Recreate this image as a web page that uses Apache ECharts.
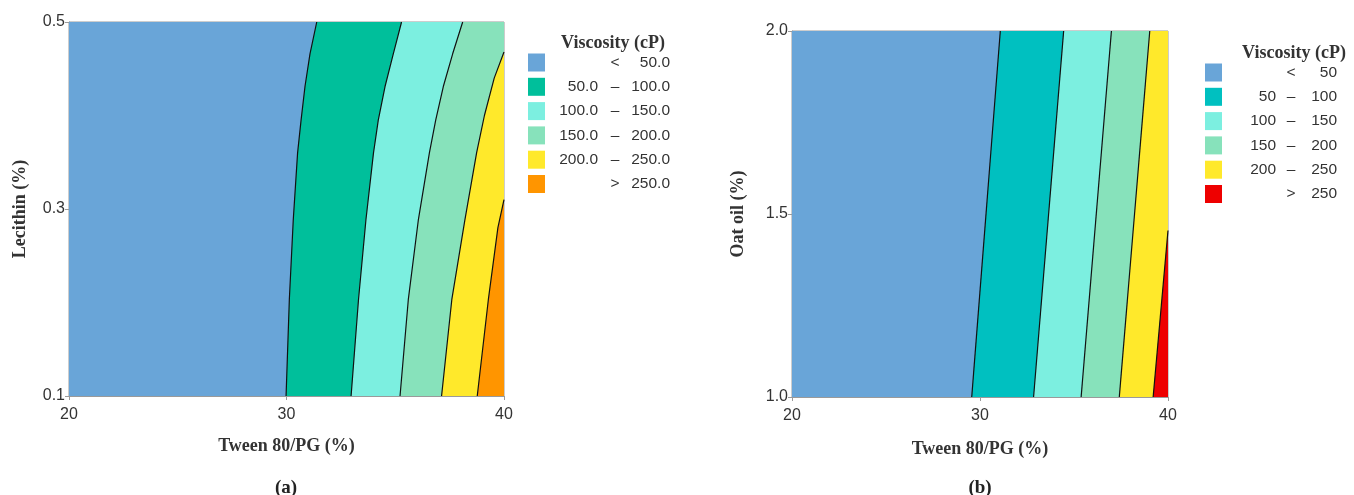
<!DOCTYPE html>
<html>
<head>
<meta charset="utf-8">
<script src="https://cdn.jsdelivr.net/npm/echarts@6/dist/echarts.min.js"></script>
<style>
html,body{margin:0;padding:0;background:#fff;}
#chart{width:1354px;height:495px;}
</style>
</head>
<body>
<div id="chart"></div>
<script>
// ---------- Data ----------
// Panel (a): Tween 80/PG (%) vs Lecithin (%)
const aXTicks = [20, 30, 40];
const aYTicks = [0.1, 0.3, 0.5];
// contour boundaries [x, y], listed top to bottom
const aB50  = [[31.39,0.5],[31.08,0.466],[30.85,0.431],[30.67,0.395],[30.51,0.36],[30.31,0.288],[30.13,0.203],[29.98,0.1]];
const aB100 = [[35.29,0.5],[34.91,0.466],[34.53,0.431],[34.22,0.395],[34.0,0.36],[33.65,0.288],[33.31,0.203],[32.97,0.1]];
const aB150 = [[38.1,0.5],[37.64,0.466],[37.21,0.431],[36.86,0.395],[36.57,0.36],[36.06,0.288],[35.6,0.203],[35.22,0.1]];
const aB200 = [[40,0.468],[39.55,0.44],[39.1,0.40],[38.74,0.36],[38.2,0.288],[37.6,0.203],[37.13,0.1]];
const aB250 = [[40,0.31],[39.72,0.28],[39.28,0.203],[38.77,0.1]];
const aColors = ['#69A5D8','#00BF9B','#7CEFE0','#87E2BB','#FFE92B','#FF9500'];
const aLegLow  = ['', '50.0', '100.0', '150.0', '200.0', ''];
const aLegSym  = ['<', '–', '–', '–', '–', '>'];
const aLegHigh = ['50.0', '100.0', '150.0', '200.0', '250.0', '250.0'];

// Panel (b): Tween 80/PG (%) vs Oat oil (%)
const bXTicks = [20, 30, 40];
const bYTicks = [1.0, 1.5, 2.0];
const bB50  = [[31.08,2.0],[29.56,1.0]];
const bB100 = [[34.45,2.0],[32.85,1.0]];
const bB150 = [[36.99,2.0],[35.38,1.0]];
const bB200 = [[39.03,2.0],[37.41,1.0]];
const bB250 = [[40,1.455],[39.21,1.0]];
const bColors = ['#69A5D8','#00C0C0','#7CEFE0','#87E2BB','#FFE92B','#EE0000'];
const bLegLow  = ['', '50', '100', '150', '200', ''];
const bLegSym  = ['<', '–', '–', '–', '–', '>'];
const bLegHigh = ['50', '100', '150', '200', '250', '250'];

const legendTitle = 'Viscosity (cP)';
const xTitle = 'Tween 80/PG (%)';
const aYTitle = 'Lecithin (%)';
const bYTitle = 'Oat oil (%)';

// ---------- Chart ----------
const SANS = 'Liberation Sans';
const SERIF = 'Liberation Serif';
const chart = echarts.init(document.getElementById('chart'));

function xAxisCfg(gi, ticks, gap){
  return {
    type:'value', gridIndex:gi, min:ticks[0], max:ticks[ticks.length-1], interval:ticks[1]-ticks[0],
    axisLine:{show:true, lineStyle:{color:'#9a9a9a', width:1}},
    axisTick:{show:true, length:4, lineStyle:{color:'#9a9a9a'}},
    axisLabel:{fontFamily:SANS, fontSize:16, color:'#333', margin:11},
    splitLine:{show:false},
    name:xTitle, nameLocation:'middle', nameGap:gap,
    nameTextStyle:{fontFamily:SERIF, fontWeight:'bold', fontSize:18, color:'#333'}
  };
}
function yAxisCfg(gi, ticks, name, gap){
  return {
    type:'value', gridIndex:gi, min:ticks[0], max:ticks[ticks.length-1], interval:ticks[1]-ticks[0],
    axisLine:{show:true, lineStyle:{color:'#9a9a9a', width:1}},
    axisTick:{show:true, length:4, lineStyle:{color:'#9a9a9a'}},
    axisLabel:{fontFamily:SANS, fontSize:16, color:'#333', margin:4, formatter:v=>v.toFixed(1)},
    splitLine:{show:false},
    name:name, nameLocation:'middle', nameGap:gap,
    nameTextStyle:{fontFamily:SERIF, fontWeight:'bold', fontSize:18, color:'#333'}
  };
}

function layerSeries(gi, bounds, colors, xmax){
  // layer 0: full rectangle; layer k: region right of boundary k
  return {
    type:'custom', xAxisIndex:gi, yAxisIndex:gi, clip:true, z:1,
    data: colors.map((c,i)=>[i]),
    renderItem: function(params, api){
      const i = params.dataIndex;
      let pts;
      if(i === 0){
        const xs = bounds.xr, ys = bounds.yr;
        pts = [[xs[0],ys[1]],[xs[1],ys[1]],[xs[1],ys[0]],[xs[0],ys[0]]];
      } else {
        const b = bounds.list[i-1];
        pts = b.slice();
        pts.push([xmax, b[b.length-1][1]]);
        pts.push([xmax, b[0][1]]);
      }
      return {
        type:'polygon',
        shape:{points: pts.map(p=>api.coord(p))},
        style:{fill: colors[i], stroke:null}
      };
    }
  };
}
function lineSeries(gi, pts){
  return {
    type:'line', xAxisIndex:gi, yAxisIndex:gi, data:pts, symbol:'none', z:5,
    lineStyle:{color:'#111', width:1.2}, silent:true, animation:false
  };
}

const aBounds = {list:[aB50,aB100,aB150,aB200,aB250], xr:[aXTicks[0],aXTicks[2]], yr:[aYTicks[0],aYTicks[2]]};
const bBounds = {list:[bB50,bB100,bB150,bB200,bB250], xr:[bXTicks[0],bXTicks[2]], yr:[bYTicks[0],bYTicks[2]]};

function legendGraphics(x0, rowY0, titleY, titleX, symX, lowRight, highRight, colors, low, sym, high){
  const g = [];
  g.push({type:'text', x:titleX, y:titleY, style:{text:legendTitle, fontFamily:SERIF, fontWeight:'bold', fontSize:18, fill:'#333', align:'center', verticalAlign:'middle'}});
  for(let i=0;i<colors.length;i++){
    const cy = rowY0 + i*24.3;
    g.push({type:'rect', shape:{x:x0, y:cy-9, width:17, height:18}, style:{fill:colors[i]}});
    if(low[i]) g.push({type:'text', x:lowRight, y:cy, style:{text:low[i], fontFamily:SANS, fontSize:15.5, fill:'#333', align:'right', verticalAlign:'middle'}});
    g.push({type:'text', x:symX, y:cy, style:{text:sym[i], fontFamily:SANS, fontSize:15.5, fill:'#333', align:'center', verticalAlign:'middle'}});
    g.push({type:'text', x:highRight, y:cy, style:{text:high[i], fontFamily:SANS, fontSize:15.5, fill:'#333', align:'right', verticalAlign:'middle'}});
  }
  return g;
}

const graphics = []
  .concat(legendGraphics(528, 62.5, 43, 613, 615, 598, 670, aColors, aLegLow, aLegSym, aLegHigh))
  .concat(legendGraphics(1205, 72.5, 53, 1294, 1291, 1276, 1337, bColors, bLegLow, bLegSym, bLegHigh));
graphics.push({type:'text', x:286, y:488, style:{text:'(a)', fontFamily:SERIF, fontWeight:'bold', fontSize:19, fill:'#222', align:'center', verticalAlign:'middle'}});
graphics.push({type:'text', x:980, y:488, style:{text:'(b)', fontFamily:SERIF, fontWeight:'bold', fontSize:19, fill:'#222', align:'center', verticalAlign:'middle'}});

const option = {
  animation:false,
  backgroundColor:'#fff',
  grid:[
    {left:69, top:22, width:435, height:374, show:true, borderColor:'#9a9a9a', borderWidth:1, containLabel:false},
    {left:792, top:31, width:376, height:366, show:true, borderColor:'#9a9a9a', borderWidth:1, containLabel:false}
  ],
  xAxis:[xAxisCfg(0, aXTicks, 41), xAxisCfg(1, bXTicks, 43)],
  yAxis:[yAxisCfg(0, aYTicks, aYTitle, 40), yAxisCfg(1, bYTicks, bYTitle, 45)],
  series:[
    layerSeries(0, aBounds, aColors, aXTicks[2]),
    layerSeries(1, bBounds, bColors, bXTicks[2])
  ].concat(aBounds.list.map(b=>lineSeries(0,b)))
   .concat(bBounds.list.map(b=>lineSeries(1,b))),
  graphic: graphics
};
chart.setOption(option);
</script>
</body>
</html>
